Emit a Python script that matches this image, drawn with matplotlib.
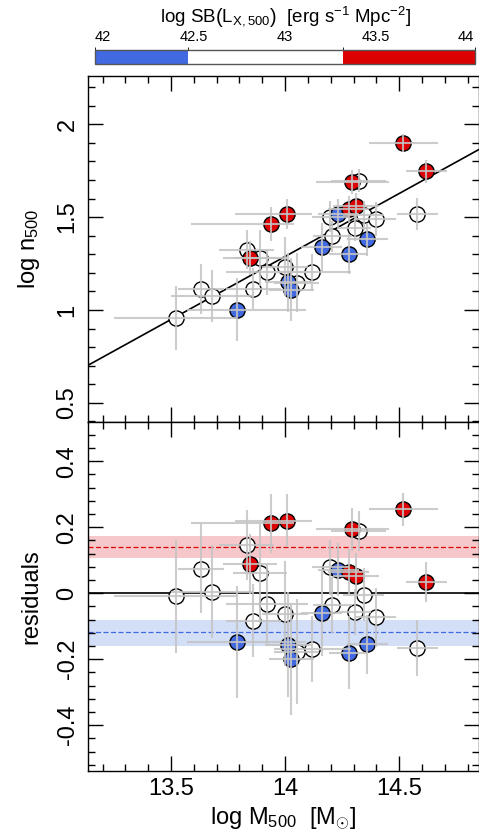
import matplotlib
matplotlib.use("Agg")
import matplotlib.pyplot as plt
import numpy as np
from matplotlib.colors import ListedColormap, BoundaryNorm
from matplotlib.ticker import MultipleLocator
import matplotlib.colorbar as mcolorbar

plt.rcParams['font.family'] = ['Liberation Sans', 'DejaVu Sans']
plt.rcParams['mathtext.fontset'] = 'custom'
plt.rcParams['mathtext.rm'] = 'Liberation Sans'
plt.rcParams['mathtext.it'] = 'Liberation Sans:italic'

# SB class of each cluster: hi (red), lo (blue), mid (open)
sb_class = ['hi'] * 8 + ['lo'] * 7 + ['mid'] * 17

log_m500 = [14.519, 14.618, 14.294, 13.939, 14.010, 14.278, 14.311, 13.846,
            14.234, 14.160, 14.360, 14.279, 14.013, 14.028, 13.791,
            14.322, 14.199, 14.344, 14.398, 14.579, 14.308, 14.207, 14.120,
            14.000, 14.050, 13.920, 13.860, 13.832, 13.890, 13.632, 13.681, 13.521]
log_n500 = [1.899, 1.746, 1.690, 1.462, 1.518, 1.545, 1.561, 1.280,
            1.518, 1.340, 1.381, 1.301, 1.148, 1.109, 1.002,
            1.697, 1.502, 1.509, 1.489, 1.518, 1.444, 1.396, 1.204,
            1.233, 1.147, 1.202, 1.115, 1.324, 1.280, 1.115, 1.077, 0.957]
resid = [0.255, 0.034, 0.194, 0.212, 0.220, 0.063, 0.053, 0.089,
         0.071, -0.059, -0.155, -0.180, -0.156, -0.200, -0.148,
         0.189, 0.078, -0.005, -0.073, -0.167, -0.056, -0.035, -0.169,
         -0.062, -0.177, -0.033, -0.083, 0.146, 0.061, 0.074, 0.005, -0.010]
m_err_lo = [0.15, 0.09, 0.16, 0.35, 0.23, 0.09, 0.10, 0.12,
            0.09, 0.09, 0.09, 0.085, 0.10, 0.10, 0.22,
            0.12, 0.08, 0.09, 0.09, 0.09, 0.07, 0.085, 0.17,
            0.10, 0.10, 0.18, 0.12, 0.12, 0.12, 0.10, 0.18, 0.27]
m_err_hi = [0.15, 0.09, 0.16, 0.10, 0.11, 0.09, 0.10, 0.12,
            0.09, 0.09, 0.09, 0.085, 0.10, 0.10, 0.30,
            0.12, 0.08, 0.09, 0.09, 0.09, 0.07, 0.085, 0.17,
            0.10, 0.10, 0.18, 0.12, 0.12, 0.12, 0.10, 0.18, 0.27]
n_err = [0.05, 0.06, 0.065, 0.09, 0.08, 0.07, 0.07, 0.09,
         0.08, 0.13, 0.09, 0.11, 0.16, 0.17, 0.17,
         0.06, 0.083, 0.08, 0.09, 0.085, 0.07, 0.085, 0.10,
         0.16, 0.16, 0.12, 0.11, 0.105, 0.15, 0.135, 0.14, 0.17]

# best fit: log n = a + b (log M - 14)
fit_a, fit_b = 1.288, 0.678
# mean offsets (and scatter bands) of hi / lo SB subsamples
hi_off, hi_band = 0.139, (0.107, 0.174)
lo_off, lo_band = -0.118, (-0.159, -0.081)

sb_bounds = [41.954, 42.47, 43.32, 44.05]
sb_ticks = [42, 42.5, 43, 43.5, 44]

col = {'lo': '#4169E1', 'mid': 'white', 'hi': '#DD0000'}
band_col = {'lo': '#D3DEF7', 'hi': '#F6C8CB'}
err_col = '#C4C4C4'

W, H = 479, 832
fig = plt.figure(figsize=(W / 100, H / 100), dpi=100)
left, right = 88.3 / W, 478.5 / W
ax1 = fig.add_axes([left, 1 - 422.3 / H, right - left, (422.3 - 76) / H])
ax2 = fig.add_axes([left, 1 - 771 / H, right - left, (771 - 422.3) / H])
cax = fig.add_axes([94.7 / W, 1 - 64.3 / H, (475.3 - 94.7) / W, 14.3 / H])

x = np.array(log_m500)
xe = [m_err_lo, m_err_hi]
cls = np.array(sb_class)

for ax, yv in ((ax1, np.array(log_n500)), (ax2, np.array(resid))):
    ax.errorbar(x, yv, xerr=xe, yerr=n_err, fmt='none', ecolor=err_col,
                elinewidth=1.5, capsize=0, zorder=4, alpha=0.85)
    for c in ['mid', 'lo', 'hi']:
        m = cls == c
        ax.scatter(x[m], yv[m], s=120, c=col[c], edgecolors='black',
                   linewidths=1.0, zorder=3)

ax1.axline((14, fit_a), slope=fit_b, color='black', lw=1.2, zorder=2)

ax2.axhspan(*hi_band, color=band_col['hi'], lw=0, zorder=0)
ax2.axhspan(*lo_band, color=band_col['lo'], lw=0, zorder=0)
ax2.axhline(hi_off, color='#DD0000', ls='--', lw=0.9, dashes=(4, 2), zorder=1)
ax2.axhline(lo_off, color='#4169E1', ls='--', lw=0.9, dashes=(4, 2), zorder=1)
ax2.axhline(0, color='black', lw=1.2, zorder=1)

xlim = (13.137, 14.848)
ax1.set_xlim(xlim)
ax2.set_xlim(xlim)
ax1.set_ylim(0.395, 2.26)
ax2.set_ylim(-0.539, 0.518)

for ax in (ax1, ax2):
    ax.xaxis.set_major_locator(MultipleLocator(0.5))
    ax.xaxis.set_minor_locator(MultipleLocator(0.1))
    ax.tick_params(which='both', direction='in', top=True, right=True,
                   labelsize=17, width=1.0)
    ax.tick_params(which='major', length=11)
    ax.tick_params(which='minor', length=5)
    ax.tick_params(axis='y', pad=7)
    ax.tick_params(axis='x', pad=5)
    for s in ax.spines.values():
        s.set_linewidth(1.0)

ax1.yaxis.set_minor_locator(MultipleLocator(0.1))
ax1.set_yticks([0.5, 1, 1.5, 2])
ax1.set_yticklabels(['0.5', '1', '1.5', '2'], rotation=90, va='center')
ax1.tick_params(labelbottom=False)
ax2.yaxis.set_minor_locator(MultipleLocator(0.04))
ax2.set_yticks([-0.4, -0.2, 0, 0.2, 0.4])
ax2.set_yticklabels(['-0.4', '-0.2', '0', '0.2', '0.4'], rotation=90, va='center')
ax2.set_xticks([13.5, 14, 14.5])
ax2.set_xticklabels(['13.5', '14', '14.5'])

ax1.set_ylabel(r'log n$_{\mathrm{500}}$', fontsize=17)
ax2.set_ylabel('residuals', fontsize=17)
ax2.set_xlabel(r'log M$_{\mathrm{500}}$  [M$_{\odot}$]', fontsize=17, labelpad=4)
ax1.yaxis.set_label_coords(-0.118, 0.5)
ax2.yaxis.set_label_coords(-0.118, 0.5)

cmap = ListedColormap([col['lo'], col['mid'], col['hi']])
norm = BoundaryNorm(sb_bounds, cmap.N)
cb = mcolorbar.ColorbarBase(cax, cmap=cmap, norm=norm, orientation='horizontal',
                            boundaries=sb_bounds, spacing='proportional')
cb.set_ticks(sb_ticks)
cb.set_ticklabels(['42', '42.5', '43', '43.5', '44'])
cax.xaxis.set_ticks_position('top')
cax.tick_params(length=0, labelsize=10.5, pad=4)
cb.outline.set_edgecolor('#555555')
cb.outline.set_linewidth(1.0)
fig.text(285.7 / W, 1 - 17 / H,
         r'log SB$\left(\mathrm{L}_{\mathrm{X,500}}\right)$  [erg s$^{-1}$ Mpc$^{-2}$]',
         ha='center', va='center', fontsize=13.5)

fig.savefig('out.png', dpi=100)
